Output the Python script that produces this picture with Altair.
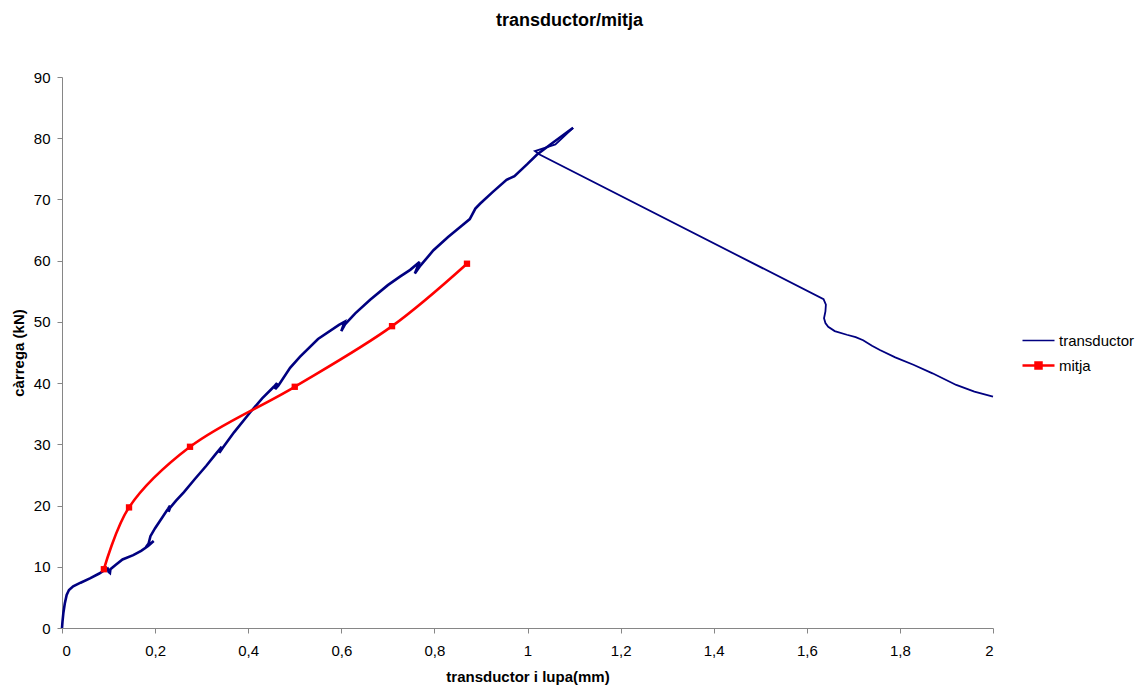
import altair as alt
import pandas as pd

# transductor series (ordered path)
trans_x = [0.000, 0.001, 0.003, 0.006, 0.010, 0.015, 0.024, 0.040, 0.060, 0.080,
           0.092, 0.098, 0.100, 0.103, 0.104, 0.115, 0.130, 0.153, 0.170, 0.185,
           0.197, 0.180, 0.186, 0.190, 0.200, 0.215, 0.228, 0.232, 0.229, 0.232,
           0.245, 0.262, 0.285, 0.310, 0.330, 0.343, 0.338, 0.345, 0.370, 0.404,
           0.430, 0.455, 0.462, 0.458, 0.465, 0.490, 0.511, 0.550, 0.595, 0.607,
           0.600, 0.608, 0.630, 0.662, 0.700, 0.726, 0.748, 0.768, 0.758, 0.770,
           0.798, 0.830, 0.860, 0.876, 0.888, 0.898, 0.925, 0.955, 0.972, 1.000,
           1.020, 1.055, 1.098, 1.060, 1.016, 1.027, 1.636, 1.641, 1.640, 1.637,
           1.640, 1.646, 1.660, 1.686, 1.705, 1.721, 1.740, 1.757, 1.790, 1.829,
           1.870, 1.921, 1.960, 2.000]
trans_y = [0.0, 1.0, 2.5, 4.0, 5.4, 6.2, 6.8, 7.4, 8.1, 8.9,
           9.5, 9.7, 9.2, 9.0, 9.6, 10.3, 11.2, 11.9, 12.6, 13.4,
           14.2, 13.2, 13.8, 15.0, 16.3, 18.0, 19.5, 20.0, 19.0, 19.6,
           20.8, 22.2, 24.3, 26.5, 28.4, 29.6, 28.6, 29.4, 32.0, 35.2,
           37.5, 39.4, 40.0, 39.0, 39.6, 42.5, 44.3, 47.2, 49.5, 50.0,
           48.5, 49.6, 51.4, 53.6, 56.0, 57.4, 58.5, 59.8, 57.9, 59.2,
           61.7, 63.9, 65.8, 66.8, 68.5, 69.3, 71.2, 73.2, 73.8, 75.8,
           77.3, 79.3, 81.7, 79.0, 77.9, 77.3, 53.7, 52.8, 51.7, 50.6,
           49.8, 49.2, 48.5, 47.9, 47.5, 47.0, 46.1, 45.4, 44.2, 43.0,
           41.6, 39.7, 38.6, 37.8]
# index where the loading branch ends (peak) and the thinner post-peak branch begins
PEAK_INDEX = 72

# mitja series
mitja_x = [0.090, 0.144, 0.275, 0.500, 0.709, 0.870]
mitja_y = [9.6, 19.7, 29.6, 39.4, 49.3, 59.5]

series_names = ["transductor", "mitja"]
series_colors = ["#000080", "#FF0000"]

x_ticks = [0, 0.2, 0.4, 0.6, 0.8, 1.0, 1.2, 1.4, 1.6, 1.8, 2.0]
y_ticks = [0, 10, 20, 30, 40, 50, 60, 70, 80, 90]

FONT = "Liberation Sans"

idx = list(range(len(trans_x)))
trans_df = pd.DataFrame({"x": trans_x, "y": trans_y, "serie": "transductor", "i": idx})
trans_up = trans_df.iloc[:PEAK_INDEX + 1]
trans_down = trans_df.iloc[PEAK_INDEX:]
mitja_df = pd.DataFrame({"x": mitja_x, "y": mitja_y, "serie": "mitja",
                         "i": list(range(len(mitja_x)))})

x_enc = alt.X("x:Q", scale=alt.Scale(domain=[0, 2], nice=False, zero=False),
              axis=alt.Axis(values=x_ticks, title="transductor i lupa(mm)",
                            labelExpr="replace(format(datum.value, '~g'), '.', ',')",
                            grid=False, domainColor="#868686", tickColor="#868686",
                            tickSize=5, labelPadding=10, titlePadding=11))
y_enc = alt.Y("y:Q", scale=alt.Scale(domain=[0, 90], nice=False),
              axis=alt.Axis(values=y_ticks, title="càrrega (kN)",
                            grid=False, domainColor="#868686", tickColor="#868686",
                            tickSize=5, labelPadding=7, titlePadding=7))

legend = alt.Legend(
    title=None, orient="none", legendX=969, legendY=256, padding=0,
    symbolSize=256, labelOffset=13, rowPadding=8,
    labelFont=FONT, labelFontSize=15, labelColor="#000000",
    symbolType={"expr": "datum.value === 'mitja' ? 'M-2,0H2M-0.375,-0.375H0.375V0.375H-0.375Z' : 'M-2,0H2'"},
    symbolFillColor={"expr": "datum.value === 'mitja' ? '#FF0000' : 'transparent'"},
    symbolStrokeWidth={"expr": "datum.value === 'mitja' ? 2.5 : 1.5"},
    symbolOpacity=1,
)

color_enc = alt.Color("serie:N",
                      scale=alt.Scale(domain=series_names, range=series_colors),
                      legend=legend)
color_nolegend = alt.Color("serie:N",
                           scale=alt.Scale(domain=series_names, range=series_colors),
                           legend=None)

trans_line_up = alt.Chart(trans_up).mark_line(strokeWidth=2.6).encode(
    x=x_enc, y=y_enc, color=color_enc, order=alt.Order("i:Q"))

trans_line_down = alt.Chart(trans_down).mark_line(strokeWidth=1.8).encode(
    x=x_enc, y=y_enc, color=color_nolegend, order=alt.Order("i:Q"))

mitja_line = alt.Chart(mitja_df).mark_line(strokeWidth=2.6, interpolate="catmull-rom").encode(
    x=x_enc, y=y_enc, color=color_enc, order=alt.Order("i:Q"))

mitja_pts = alt.Chart(mitja_df).mark_square(size=40, filled=True, opacity=1).encode(
    x=x_enc, y=y_enc, color=color_nolegend)

chart = alt.layer(trans_line_up, trans_line_down, mitja_line, mitja_pts).properties(
    width=931, height=551,
    autosize=alt.AutoSizeParams(type="none"),
    padding={"left": 62, "top": 77, "right": 147, "bottom": 62},
    title=alt.TitleParams("transductor/mitja", font=FONT, fontSize=18, fontWeight="bold",
                          color="#000000", anchor="middle", dx=42, offset=40),
).configure_view(stroke=None).configure_axis(
    labelFont=FONT, labelFontSize=15, labelColor="#000000",
    titleFont=FONT, titleFontSize=15, titleFontWeight="bold", titleColor="#000000",
)

chart.save("out.html", embed_options={"renderer": "svg", "actions": False})
